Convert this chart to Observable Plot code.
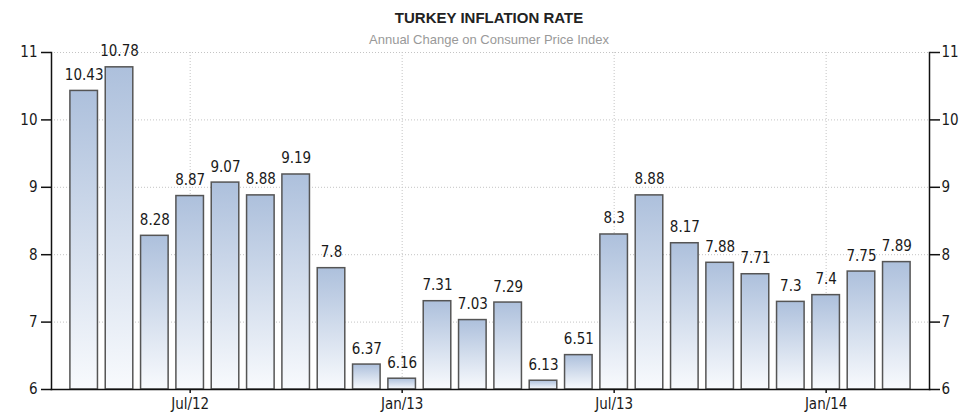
<!DOCTYPE html>
<html><head><meta charset="utf-8">
<script src="https://cdn.jsdelivr.net/npm/d3@7"></script>
<script src="https://cdn.jsdelivr.net/npm/@observablehq/plot@0.6"></script>
<style>
body{margin:0;background:#fff;}
#wrap{position:relative;width:978px;height:417px;overflow:hidden;}
#title{position:absolute;left:0;width:978px;top:9px;line-height:1;text-align:center;font:bold 15px "Liberation Sans",Arial,sans-serif;color:#222;}
#subtitle{position:absolute;left:0;width:978px;top:32px;line-height:1;text-align:center;font:13px "Liberation Sans",Arial,sans-serif;color:#999;}
</style></head>
<body><div id="wrap"><div id="chart"></div><div id="title">TURKEY INFLATION RATE</div><div id="subtitle">Annual Change on Consumer Price Index</div></div>
<script>
const months = ["Apr/12","May/12","Jun/12","Jul/12","Aug/12","Sep/12","Oct/12","Nov/12","Dec/12","Jan/13","Feb/13","Mar/13","Apr/13","May/13","Jun/13","Jul/13","Aug/13","Sep/13","Oct/13","Nov/13","Dec/13","Jan/14","Feb/14","Mar/14"];
const values = [10.43,10.78,8.28,8.87,9.07,8.88,9.19,7.8,6.37,6.16,7.31,7.03,7.29,6.13,6.51,8.3,8.88,8.17,7.88,7.71,7.3,7.4,7.75,7.89];
const xTicks = ["Jul/12","Jan/13","Jul/13","Jan/14"];
const yTicks = [6,7,8,9,10,11];

const data = months.map((m, i) => ({month: m, value: values[i]}));

function gradientDefs() {
  const ns = "http://www.w3.org/2000/svg";
  const defs = document.createElementNS(ns, "defs");
  const g = document.createElementNS(ns, "linearGradient");
  g.setAttribute("id", "bargrad");
  g.setAttribute("x1", "0"); g.setAttribute("y1", "0");
  g.setAttribute("x2", "0"); g.setAttribute("y2", "1");
  [["0%", "#adc0dc"], ["100%", "#f8fafd"]].forEach(([o, c]) => {
    const s = document.createElementNS(ns, "stop");
    s.setAttribute("offset", o); s.setAttribute("stop-color", c);
    g.appendChild(s);
  });
  defs.appendChild(g);
  return defs;
}

const font = '"DejaVu Sans Condensed","Liberation Sans",Arial,sans-serif';
const intFmt = d => String(d);
const chart = Plot.plot({
  width: 978, height: 417,
  marginTop: 52, marginBottom: 28, marginLeft: 51, marginRight: 49,
  style: {fontFamily: font, fontSize: "15px", color: "#1a1a1a", background: "#fff"},
  x: {type: "band", domain: months, paddingInner: 0.22, paddingOuter: 0.535, round: false},
  y: {domain: [6, 11]},
  marks: [
    gradientDefs,
    Plot.gridY(yTicks, {stroke: "#c4c4c4", strokeOpacity: 1, strokeDasharray: "1,2"}),
    Plot.gridX(xTicks, {stroke: "#c4c4c4", strokeOpacity: 1, strokeDasharray: "1,2"}),
    Plot.barY(data, {x: "month", y1: 6, y2: "value", fill: "url(#bargrad)", stroke: "#555", strokeWidth: 1.5}),
    Plot.text(data, {x: "month", y: "value", text: d => String(d.value), lineAnchor: "bottom", dy: -11, fill: "#1a1a1a", fontSize: 15}),
    Plot.axisY(yTicks, {anchor: "left", tickSize: 10, tickPadding: 4, tickFormat: intFmt, label: null, stroke: "#111", strokeWidth: 1.5, fontSize: 15}),
    Plot.axisY(yTicks, {anchor: "right", tickSize: 10, tickPadding: 2, tickFormat: intFmt, label: null, stroke: "#111", strokeWidth: 1.5, fontSize: 15}),
    Plot.axisX(xTicks, {tickSize: 4, tickPadding: 5, label: null, stroke: "#111", strokeWidth: 1.5, fontSize: 15}),
    Plot.frame({anchor: "left", stroke: "#111", strokeWidth: 1.5}),
    Plot.frame({anchor: "right", stroke: "#111", strokeWidth: 1.5}),
    Plot.frame({anchor: "bottom", stroke: "#111", strokeWidth: 1.5})
  ]
});
document.getElementById("chart").appendChild(chart);
</script>
</body></html>
